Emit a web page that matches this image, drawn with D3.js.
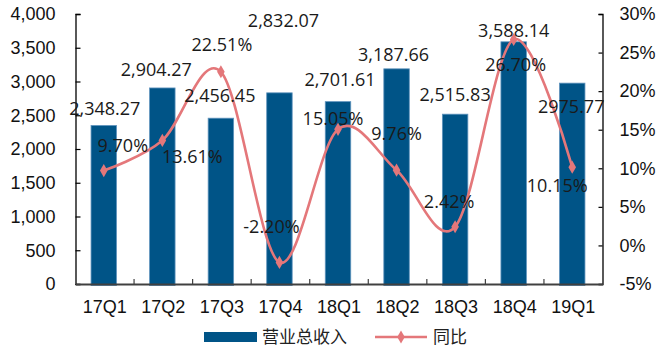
<!DOCTYPE html>
<html>
<head>
<meta charset="utf-8">
<script src="https://cdn.jsdelivr.net/npm/d3@7"></script>
<style>
  body { margin: 0; background: #fff; }
  svg { display: block; }
</style>
</head>
<body>
<div id="chart"></div>
<script>
// quarterly revenue and yoy growth
const quarters = ["17Q1", "17Q2", "17Q3", "17Q4", "18Q1", "18Q2", "18Q3", "18Q4", "19Q1"];
const revenue = [2348.27, 2904.27, 2456.45, 2832.07, 2701.61, 3187.66, 2515.83, 3588.14, 2975.77];
const revenueText = ["2,348.27", "2,904.27", "2,456.45", "2,832.07", "2,701.61", "3,187.66", "2,515.83", "3,588.14", "2975.77"];
const growth = [9.70, 13.61, 22.51, -2.20, 15.05, 9.76, 2.42, 26.70, 10.15];
const leftTicks = [0, 500, 1000, 1500, 2000, 2500, 3000, 3500, 4000];
const rightTicks = [-5, 0, 5, 10, 15, 20, 25, 30];
const legendNames = ["营业总收入", "同比"];

// label nudges (dx, dy) relative to bar top / marker, mimicking the original layout
const barLabelNudge = [[1, -10], [-6, -12], [-1, -16], [4, -66], [2, -16], [-3, -8], [0, -13], [0, -5], [-1, 30]];
const lineLabelNudge = [[19, -19], [30, 23], [1, -21], [-8, -29], [-5, -4], [0, -30], [-6, -19], [2, 32], [-15, 25]];

const width = 656, height = 349;
const plotLeft = 75.5, plotRight = 602.5, plotTop = 14, plotBottom = 284;

const svg = d3.select("#chart").append("svg")
  .attr("width", width)
  .attr("height", height);

const x = d3.scaleBand()
  .domain(quarters)
  .range([plotLeft, plotRight])
  .paddingInner(0.565)
  .paddingOuter(0.2825);

const yL = d3.scaleLinear().domain([0, 4000]).range([plotBottom, plotTop]);
const yR = d3.scaleLinear().domain([-5, 30]).range([plotBottom, plotTop]);

const cx = d => x(d) + x.bandwidth() / 2 - 1;

// bars
svg.append("g")
  .selectAll("rect")
  .data(revenue)
  .join("rect")
  .attr("x", (d, i) => x(quarters[i]) - 1)
  .attr("y", d => yL(d))
  .attr("width", x.bandwidth())
  .attr("height", d => yL(0) - yL(d) + 1.5)
  .attr("fill", "#005487")
  .attr("stroke", "#5f93bd")
  .attr("stroke-width", 0.8);

// axes
const axisL = svg.append("g")
  .attr("transform", "translate(" + plotLeft + ",0)")
  .call(d3.axisLeft(yL).tickValues(leftTicks).tickSize(-5).tickPadding(20)
    .tickFormat(d3.format(",")));
const axisR = svg.append("g")
  .attr("transform", "translate(" + plotRight + ",0)")
  .call(d3.axisRight(yR).tickValues(rightTicks).tickSize(-4).tickPadding(17)
    .tickFormat(d => d + "%"));
[axisL, axisR].forEach(a => {
  a.select(".domain").attr("stroke", "#000").attr("stroke-width", 1.3);
  a.selectAll(".tick line").attr("stroke", "#000").attr("stroke-width", 1.2);
  a.selectAll("text")
    .attr("font-family", "'Liberation Sans', Arial, sans-serif")
    .attr("font-size", 18)
    .attr("fill", "#111");
});

const axisB = svg.append("g")
  .attr("transform", "translate(0," + plotBottom + ")")
  .call(d3.axisBottom(x).tickSize(0).tickPadding(16));
axisB.select(".domain").attr("stroke", "#404040").attr("stroke-width", 2);
axisB.selectAll("text")
  .attr("font-family", "'Liberation Sans', Arial, sans-serif")
  .attr("font-size", 18)
  .attr("fill", "#111");
// small ticks between categories, pointing up
svg.append("g")
  .selectAll("line")
  .data(quarters.slice(1))
  .join("line")
  .attr("x1", d => x(d) - x.step() * x.paddingInner() / 2)
  .attr("x2", d => x(d) - x.step() * x.paddingInner() / 2)
  .attr("y1", plotBottom)
  .attr("y2", plotBottom - 5)
  .attr("stroke", "#404040")
  .attr("stroke-width", 1.2);

// growth line
const line = d3.line()
  .x((d, i) => cx(quarters[i]))
  .y(d => yR(d))
  .curve(d3.curveCardinal.tension(0));

svg.append("path")
  .datum(growth)
  .attr("d", line)
  .attr("fill", "none")
  .attr("stroke", "#e4777a")
  .attr("stroke-width", 2.6);

const diamond = d3.symbol().type(d3.symbolDiamond).size(50);
svg.append("g")
  .selectAll("path")
  .data(growth)
  .join("path")
  .attr("transform", (d, i) => "translate(" + cx(quarters[i]) + "," + yR(d) + ")")
  .attr("d", diamond)
  .attr("fill", "#e4777a");

// data labels
const labelFont = "'Open Sans', 'DejaVu Sans', sans-serif";
svg.append("g")
  .selectAll("text")
  .data(revenue)
  .join("text")
  .attr("x", (d, i) => cx(quarters[i]) + barLabelNudge[i][0])
  .attr("y", (d, i) => yL(d) + barLabelNudge[i][1])
  .attr("text-anchor", "middle")
  .attr("font-family", labelFont)
  .attr("font-size", 18)
  .attr("fill", "#1a1a1a")
  .text((d, i) => revenueText[i]);

svg.append("g")
  .selectAll("text")
  .data(growth)
  .join("text")
  .attr("x", (d, i) => cx(quarters[i]) + lineLabelNudge[i][0])
  .attr("y", (d, i) => yR(d) + lineLabelNudge[i][1])
  .attr("text-anchor", "middle")
  .attr("font-family", labelFont)
  .attr("font-size", 18)
  .attr("fill", "#1a1a1a")
  .text(d => d.toFixed(2) + "%");

// legend
const legend = svg.append("g").attr("transform", "translate(0,337)");
legend.append("rect")
  .attr("x", 204).attr("y", -5)
  .attr("width", 53).attr("height", 10)
  .attr("fill", "#005487");
legend.append("text")
  .attr("x", 262).attr("y", 6)
  .attr("font-family", "'Noto Sans CJK SC', sans-serif")
  .attr("font-size", 17)
  .attr("fill", "#222")
  .text(legendNames[0]);
legend.append("line")
  .attr("x1", 375).attr("x2", 427)
  .attr("y1", 0).attr("y2", 0)
  .attr("stroke", "#e4777a")
  .attr("stroke-width", 2.6);
legend.append("path")
  .attr("transform", "translate(401,0)")
  .attr("d", diamond)
  .attr("fill", "#e4777a");
legend.append("text")
  .attr("x", 433).attr("y", 6)
  .attr("font-family", "'Noto Sans CJK SC', sans-serif")
  .attr("font-size", 17)
  .attr("fill", "#222")
  .text(legendNames[1]);
</script>
</body>
</html>
